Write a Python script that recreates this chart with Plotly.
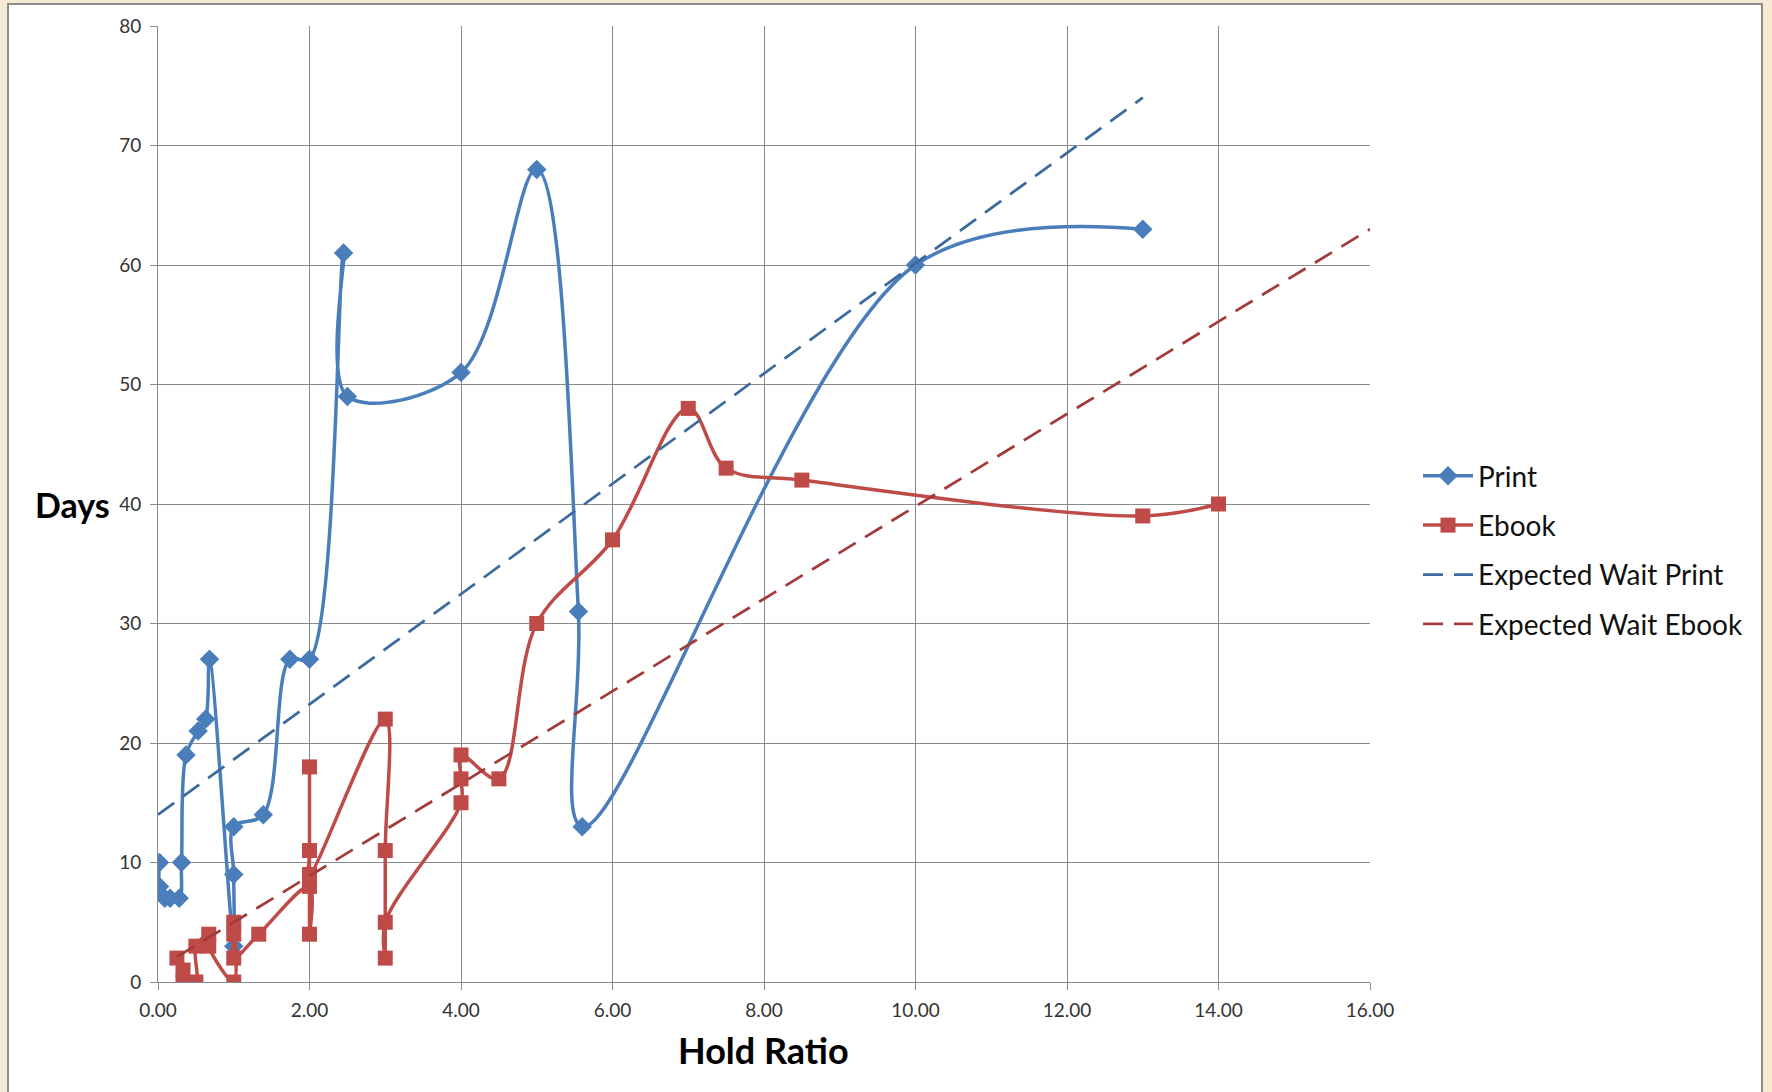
import plotly.graph_objects as go

# ---- data ----
print_x = [0.02, 0.02, 0.09, 0.16, 0.28, 0.31, 0.37, 0.53, 0.63, 0.68, 1.0, 1.0, 1.0,
           1.39, 1.74, 2.0, 2.45, 2.5, 4.0, 5.0, 5.55, 5.6, 10.0, 13.0]
print_y = [10, 8, 7, 7, 7, 10, 19, 21, 22, 27, 3, 9, 13,
           14, 27, 27, 61, 49, 51, 68, 31, 13, 60, 63]

ebook_x = [0.25, 0.33, 0.33, 0.5, 0.5, 0.67, 0.67, 1.0, 1.0, 1.0, 1.0, 1.33,
           2.0, 2.0, 2.0, 2.0, 2.0, 3.0, 3.0, 3.0, 3.0, 4.0, 4.0, 4.0, 4.5,
           5.0, 6.0, 7.0, 7.5, 8.5, 13.0, 14.0]
ebook_y = [2, 1, 0, 0, 3, 4, 3, 0, 5, 4, 2, 4,
           8, 4, 18, 11, 9, 22, 11, 2, 5, 15, 17, 19, 17,
           30, 37, 48, 43, 42, 39, 40]

exp_print_x = [0.0, 13.0]
exp_print_y = [14.0, 74.0]

exp_ebook_x = [0.25, 16.0]
exp_ebook_y = [2.1, 63.0]

x_ticks = [0, 2, 4, 6, 8, 10, 12, 14, 16]
y_ticks = [0, 10, 20, 30, 40, 50, 60, 70, 80]

FONT = "Lato"
BLUE = "#4A7EBB"
RED = "#BE4B48"
DBLUE = "#3A6A9E"
DRED = "#A33B3B"

fig = go.Figure()
fig.add_trace(go.Scatter(
    x=print_x, y=print_y, name="Print", mode="lines+markers",
    line=dict(color=BLUE, width=3.5, shape="spline", smoothing=1.0),
    marker=dict(symbol="diamond", size=15, color=BLUE),
    legendgroup="a"))
fig.add_trace(go.Scatter(
    x=ebook_x, y=ebook_y, name="Ebook", mode="lines+markers",
    line=dict(color=RED, width=3.5, shape="spline", smoothing=1.0),
    marker=dict(symbol="square", size=15, color=RED),
    legendgroup="b"))
fig.add_trace(go.Scatter(
    x=exp_print_x, y=exp_print_y, name="Expected Wait Print", mode="lines",
    line=dict(color=DBLUE, width=2.75, dash="20px,11px"),
    legendgroup="c"))
fig.add_trace(go.Scatter(
    x=exp_ebook_x, y=exp_ebook_y, name="Expected Wait Ebook", mode="lines",
    line=dict(color=DRED, width=2.75, dash="20px,11px"),
    legendgroup="d"))

W, H = 1772, 1092
L, R, T, B = 158, 1370, 26, 982
pw, ph = R - L, B - T


def px(xp):
    return (xp - L) / pw


def py(yp):
    return (B - yp) / ph


fig.update_layout(
    width=W, height=H,
    margin=dict(l=L, r=W - R, t=T, b=H - B, autoexpand=False),
    paper_bgcolor="#F7EAD2",
    plot_bgcolor="white",
    font=dict(family=FONT, color="#222222"),
    showlegend=True,
    legend=dict(x=px(1418), y=py(550), xanchor="left", yanchor="middle",
                font=dict(family=FONT, size=28, color="#111111"),
                tracegroupgap=10, bgcolor="rgba(0,0,0,0)", itemwidth=50),
    shapes=[dict(type="rect", xref="paper", yref="paper",
                 x0=px(8), x1=px(1762), y0=py(1200), y1=py(4),
                 fillcolor="white", line=dict(color="#8C8C8C", width=2),
                 layer="below")],
    annotations=[
        dict(text="<b>Days</b>", xref="paper", yref="paper",
             x=px(72), y=py(504), xanchor="center", yanchor="middle",
             showarrow=False, font=dict(family=FONT, size=34, color="#000000")),
        dict(text="<b>Hold Ratio</b>", xref="paper", yref="paper",
             x=px(763), y=py(1050), xanchor="center", yanchor="middle",
             showarrow=False, font=dict(family=FONT, size=36, color="#000000")),
    ],
)

fig.update_xaxes(
    range=[0, 16], tickvals=x_ticks, tickformat=".2f", automargin=False,
    showgrid=True, gridcolor="#8A8A8A", gridwidth=1,
    showline=True, linecolor="#8A8A8A", linewidth=1,
    ticks="outside", ticklen=7, tickcolor="#8A8A8A",
    ticklabelstandoff=4, ticklabeloverflow="allow",
    tickfont=dict(family=FONT, size=19, color="#333333"),
    zeroline=False, mirror=False)
fig.update_yaxes(
    range=[0, 80], tickvals=y_ticks, automargin=False,
    showgrid=True, gridcolor="#8A8A8A", gridwidth=1,
    showline=True, linecolor="#8A8A8A", linewidth=1,
    ticks="outside", ticklen=7, tickcolor="#8A8A8A",
    ticklabelstandoff=5, ticklabeloverflow="allow",
    tickfont=dict(family=FONT, size=19, color="#333333"),
    zeroline=False)

fig.write_html(
    "out.html",
    config={"displayModeBar": False},
    post_script="document.body.style.margin='0';document.body.style.overflow='hidden';")
